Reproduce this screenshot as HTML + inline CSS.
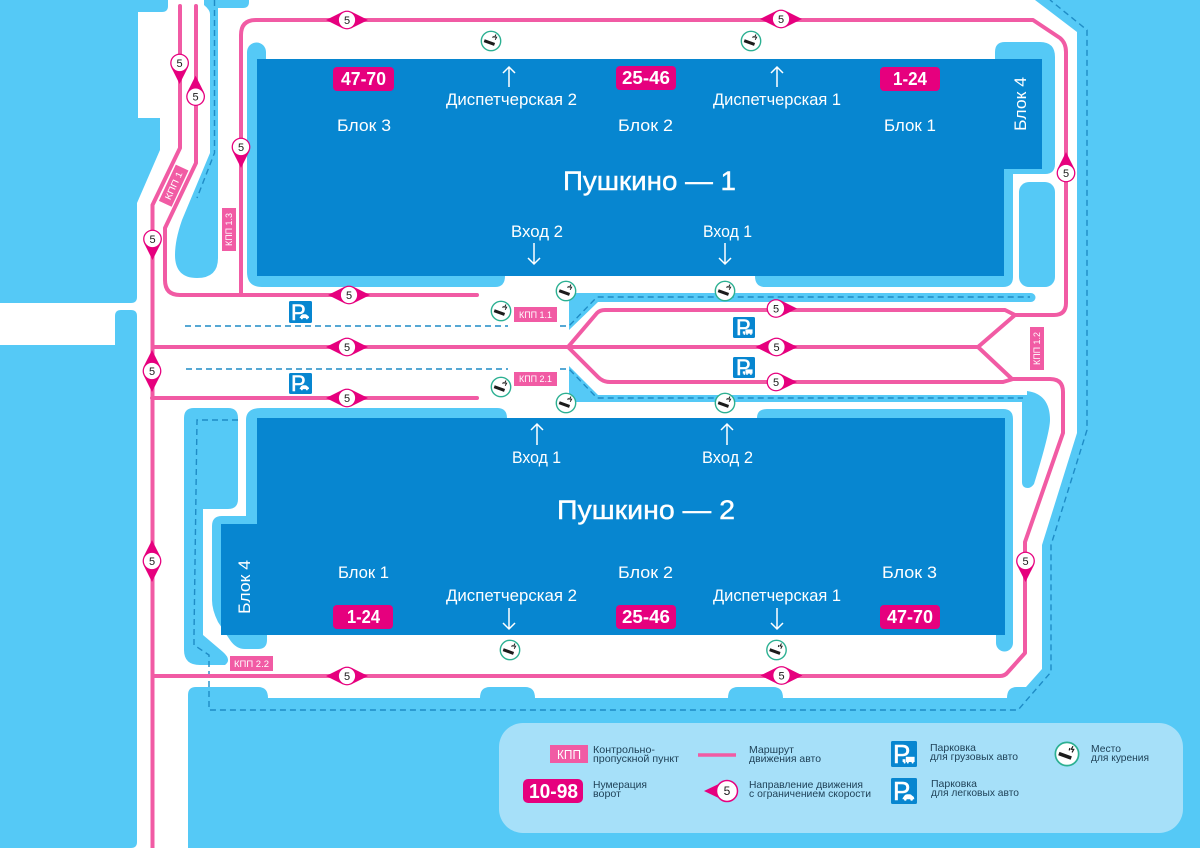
<!DOCTYPE html>
<html lang="ru"><head><meta charset="utf-8"><title>Пушкино</title>
<style>
html,body{margin:0;padding:0;background:#fff}
svg{display:block}
text{font-family:"Liberation Sans",sans-serif}
.w{fill:#fff}
.t{fill:#fff;font-size:16.5px}
.b{fill:#fff;font-size:18px;font-weight:bold}
.k{fill:#fff;font-size:9px}
.l{fill:#1d3f55;font-size:10.5px}
.n{fill:#1a1a1a;font-size:11px;text-anchor:middle}
.r{fill:none;stroke:#f15ba4;stroke-width:4;stroke-linejoin:round}
.d{fill:none;stroke:#1f8cc6;stroke-width:1.4;stroke-dasharray:6 4}
.a{fill:none;stroke:#fff;stroke-width:1.5}
.P{fill:#fff;font-size:22px;stroke:#fff;stroke-width:.5}
</style></head><body>
<svg width="1200" height="848" viewBox="0 0 1200 848" xmlns="http://www.w3.org/2000/svg">
<defs>
<g id="cig"><rect x="-6.5" y="-1.5" width="11" height="3" fill="#1c1c1c" transform="rotate(20) translate(0,2)"/><path d="M5,-6.5 L3.6,-4 L5.6,-3.8 L4.2,-1.3 M2.4,-5 L1.8,-3" fill="none" stroke="#1c1c1c" stroke-width="1"/></g>
<g id="smk"><circle r="9.7" fill="#fff" stroke="#2cb092" stroke-width="1.4"/><use href="#cig"/></g>
<g id="car"><path d="M-6,2 L-4,-1 Q-3,-2.5 -1,-2.5 H2 Q3.5,-2.5 4.5,-1 L6,0 Q7,1 7,3 H-6Z" fill="#fff"/><circle cx="-3" cy="3.3" r="1.4" fill="#fff"/><circle cx="4" cy="3.3" r="1.4" fill="#fff"/></g>
<g id="trk"><rect x="-4" y="-4" width="11" height="6.5" fill="#fff"/><rect x="-8" y="-1" width="3.4" height="3.5" fill="#fff"/><circle cx="-5.5" cy="3.2" r="1.3" fill="#fff"/><circle cx="-1.5" cy="3.2" r="1.3" fill="#fff"/><circle cx="4.5" cy="3.2" r="1.3" fill="#fff"/></g>
<polygon id="tip" points="4.2,-8.4 21,0 4.2,8.4" fill="#e6007e"/>
<g id="cir"><circle r="9.4" fill="#e6007e"/><circle r="8.1" fill="#fff"/></g>
</defs>

<rect width="1200" height="848" fill="#fff"/>
<g fill="#55c9f6">
<path d="M1035,0 L1077,32 V433 L1042,545 V669 L1026,687 H1017 Q1007,687 1007,698 H783 Q783,687 773,687 H738 Q728,687 728,698 H535 Q535,687 525,687 H490 Q480,687 480,698 H268 Q268,687 258,687 H196 Q188,687 188,695 V848 H1200 V0Z"/>
<path d="M0,0 H168 V6 Q168,12 162,12 H138 V118 H160 V150 L137,203 V297 Q137,303 131,303 H0Z"/>
<path d="M0,345 H115 V316 Q115,310 121,310 H131 Q137,310 137,316 V842 Q137,848 131,848 H0Z"/>
<path d="M204,0 H249 V2 Q249,8 243,8 H218 V258 Q218,278 197,278 Q175,278 175,255 Q175,240 182,220 L210,153 V14 Q210,10 204,5Z"/>
<path d="M247,52 a9.5,9.5 0 0 1 19,0 V59 H995 V52 Q995,42 1005,42 H1040 Q1055,42 1055,57 V164 Q1055,174 1045,174 H1013 V277 Q1013,287 1003,287 H765 Q755,287 755,276 H505 Q505,287 495,287 H262 Q247,287 247,272Z"/>
<rect x="1019" y="182" width="36" height="105" rx="10"/>
<path d="M569,293 H1031 a4.5,4.5 0 0 1 0,9 H598 L569,330Z"/>
<path d="M569,366 L598,395 H1027 V391 Q1050,394 1050,420 Q1050,432 1034,484 Q1031,488 1028,488 Q1022,488 1022,482 V402 H569Z"/>
<path d="M261,408 H497 Q507,408 507,418 H757 Q757,409 767,409 H1003 Q1013,409 1013,419 V643 a8.5,8.5 0 0 1 -17,0 V635 H267 V640 Q267,649 258,649 H245 Q236,649 230,640 L218,622 Q212,610 212,600 V526 Q212,516 222,516 H246 V420 Q246,408 261,408Z"/>
<path d="M194,408 H228 Q238,408 238,418 V499 Q238,509 228,509 H203 V635 L223,652 Q232,660 225,665 H200 Q184,665 184,650 V418 Q184,408 194,408Z"/>
</g>
<rect x="499" y="723" width="684" height="110" rx="24" fill="#a6e0f9"/>

<!-- buildings -->
<path d="M257,59 H1042 V169 H1004 V276 H257Z" fill="#0786d0"/>
<path d="M257,418 H1005 V635 H221 V524 H257Z" fill="#0786d0"/>

<!-- dashes -->
<path class="d" d="M214.5,0 V153 L197,198"/>
<path class="d" d="M185,326 H508 M560,326 H569 L597,297 H1030"/>
<path class="d" d="M186,369 H508 M560,369 H569 L597,398 H1023"/>
<path class="d" d="M238,420 H197 L194,635 V645 L209,655 V710 H1018 L1051,672 V545 L1087,430 V30 L1050,0"/>

<!-- roads -->
<path class="r" d="M152.5,848 V205 L180,148 V6" stroke-linecap="round"/>
<path class="r" d="M196,6 V163 L165,228 V280 Q165,295 180,295 H477" stroke-linecap="round"/>
<path class="r" d="M241,295 V35 Q241,20 256,20 H1033 L1060,38 Q1066,43 1066,52 V303 Q1066,315 1054,315 H1015 L1005,310 H605 Q600,310 597,313 L568,347 H152"/>
<path class="r" d="M568,347 H978 L1015,315 M978,347 L1012,379"/>
<path class="r" d="M568,347 L598,377 Q603,382 610,382 H1003 L1013,379 H1050 Q1063,379 1063,392 V433 L1025,542 V653 L1008,672 Q1005,676 1000,676 H152"/>
<path class="r" d="M152,398 H477" stroke-linecap="round"/>

<!-- arrows -->
<path class="a" d="M509,87 V67 M503,73 L509,67 L515,73"/>
<path class="a" d="M777,87 V67 M771,73 L777,67 L783,73"/>
<path class="a" d="M534,243 V264 M528,258 L534,264 L540,258"/>
<path class="a" d="M725,243 V264 M719,258 L725,264 L731,258"/>
<path class="a" d="M537,445 V424 M531,430 L537,424 L543,430"/>
<path class="a" d="M727,445 V424 M721,430 L727,424 L733,430"/>
<path class="a" d="M509,608 V629 M503,623 L509,629 L515,623"/>
<path class="a" d="M777,608 V629 M771,623 L777,629 L783,623"/>

<!-- building labels -->
<text class="t" x="446" y="105" textLength="131" lengthAdjust="spacingAndGlyphs">Диспетчерская 2</text>
<text class="t" x="713" y="105" textLength="128" lengthAdjust="spacingAndGlyphs">Диспетчерская 1</text>
<text class="t" x="337" y="131" textLength="54" lengthAdjust="spacingAndGlyphs">Блок 3</text>
<text class="t" x="618" y="131" textLength="55" lengthAdjust="spacingAndGlyphs">Блок 2</text>
<text class="t" x="884" y="131" textLength="52" lengthAdjust="spacingAndGlyphs">Блок 1</text>
<text class="t" x="511" y="237" textLength="52" lengthAdjust="spacingAndGlyphs">Вход 2</text>
<text class="t" x="703" y="237" textLength="49" lengthAdjust="spacingAndGlyphs">Вход 1</text>
<text x="563" y="190" fill="#fff" stroke="#fff" stroke-width=".4" font-size="27" textLength="173" lengthAdjust="spacingAndGlyphs">Пушкино — 1</text>
<text class="t" x="512" y="463" textLength="49" lengthAdjust="spacingAndGlyphs">Вход 1</text>
<text class="t" x="702" y="463" textLength="51" lengthAdjust="spacingAndGlyphs">Вход 2</text>
<text x="557" y="519" fill="#fff" stroke="#fff" stroke-width=".4" font-size="27" textLength="178" lengthAdjust="spacingAndGlyphs">Пушкино — 2</text>
<text class="t" x="338" y="578" textLength="51" lengthAdjust="spacingAndGlyphs">Блок 1</text>
<text class="t" x="618" y="578" textLength="55" lengthAdjust="spacingAndGlyphs">Блок 2</text>
<text class="t" x="882" y="578" textLength="55" lengthAdjust="spacingAndGlyphs">Блок 3</text>
<text class="t" x="446" y="601" textLength="131" lengthAdjust="spacingAndGlyphs">Диспетчерская 2</text>
<text class="t" x="713" y="601" textLength="128" lengthAdjust="spacingAndGlyphs">Диспетчерская 1</text>
<text class="t" transform="translate(1026,131) rotate(-90)" textLength="54" lengthAdjust="spacingAndGlyphs">Блок 4</text>
<text class="t" transform="translate(250,614) rotate(-90)" textLength="54" lengthAdjust="spacingAndGlyphs">Блок 4</text>

<!-- gate badges -->
<g fill="#e6007e">
<rect x="333" y="67" width="61" height="24" rx="4"/><rect x="616" y="66" width="60" height="24" rx="4"/><rect x="880" y="67" width="60" height="24" rx="4"/>
<rect x="333" y="605" width="60" height="24" rx="4"/><rect x="616" y="605" width="60" height="24" rx="4"/><rect x="880" y="605" width="60" height="24" rx="4"/>
<rect x="523" y="779" width="60" height="24" rx="5"/>
</g>
<text class="b" x="341" y="85" textLength="45" lengthAdjust="spacingAndGlyphs">47-70</text>
<text class="b" x="622" y="84" textLength="48" lengthAdjust="spacingAndGlyphs">25-46</text>
<text class="b" x="893" y="85" textLength="34" lengthAdjust="spacingAndGlyphs">1-24</text>
<text class="b" x="347" y="623" textLength="33" lengthAdjust="spacingAndGlyphs">1-24</text>
<text class="b" x="622" y="623" textLength="48" lengthAdjust="spacingAndGlyphs">25-46</text>
<text class="b" x="887" y="623" textLength="46" lengthAdjust="spacingAndGlyphs">47-70</text>
<text class="b" x="529" y="798" textLength="49" lengthAdjust="spacingAndGlyphs" style="font-size:20px">10-98</text>

<!-- KPP -->
<g fill="#f15ba4">
<rect x="222" y="208" width="14" height="43"/>
<rect x="-20" y="-7" width="40" height="14" transform="translate(173.7,185.7) rotate(-65)"/>
<rect x="514" y="307" width="43" height="15"/>
<rect x="514" y="372" width="43" height="14"/>
<rect x="1030" y="327" width="14" height="43"/>
<rect x="230" y="656" width="43" height="15"/>
<rect x="550" y="745" width="38" height="18"/>
</g>
<text class="k" transform="translate(232,246) rotate(-90)" textLength="33" lengthAdjust="spacingAndGlyphs">КПП 1.3</text>
<text class="k" transform="translate(173.7,185.7) rotate(-65) translate(-15,3)" textLength="30" lengthAdjust="spacingAndGlyphs">КПП 1</text>
<text class="k" x="519" y="318" textLength="33" lengthAdjust="spacingAndGlyphs">КПП 1.1</text>
<text class="k" x="519" y="382" textLength="33" lengthAdjust="spacingAndGlyphs">КПП 2.1</text>
<text class="k" transform="translate(1040,365) rotate(-90)" textLength="33" lengthAdjust="spacingAndGlyphs">КПП 1.2</text>
<text class="k" x="234" y="667" textLength="35" lengthAdjust="spacingAndGlyphs">КПП 2.2</text>
<text x="557" y="759" fill="#fff" style="font-size:12.5px" textLength="24" lengthAdjust="spacingAndGlyphs">КПП</text>

<!-- speed markers -->
<g transform="translate(347,20)"><use href="#tip" transform="rotate(180)"/><use href="#tip"/><use href="#cir"/><text class="n" y="4">5</text></g>
<g transform="translate(781,19)"><use href="#tip" transform="rotate(180)"/><use href="#tip"/><use href="#cir"/><text class="n" y="4">5</text></g>
<g transform="translate(349,295)"><use href="#tip" transform="rotate(180)"/><use href="#tip"/><use href="#cir"/><text class="n" y="4">5</text></g>
<g transform="translate(347,347)"><use href="#tip" transform="rotate(180)"/><use href="#tip"/><use href="#cir"/><text class="n" y="4">5</text></g>
<g transform="translate(347,398)"><use href="#tip" transform="rotate(180)"/><use href="#tip"/><use href="#cir"/><text class="n" y="4">5</text></g>
<g transform="translate(776.5,347)"><use href="#tip" transform="rotate(180)"/><use href="#tip"/><use href="#cir"/><text class="n" y="4">5</text></g>
<g transform="translate(776,308.5)"><use href="#tip"/><use href="#cir"/><text class="n" y="4">5</text></g>
<g transform="translate(776,382)"><use href="#tip"/><use href="#cir"/><text class="n" y="4">5</text></g>
<g transform="translate(347,676)"><use href="#tip" transform="rotate(180)"/><use href="#tip"/><use href="#cir"/><text class="n" y="4">5</text></g>
<g transform="translate(781.5,675.5)"><use href="#tip" transform="rotate(180)"/><use href="#tip"/><use href="#cir"/><text class="n" y="4">5</text></g>
<g transform="translate(179.6,63)"><use href="#tip" transform="rotate(90)"/><use href="#cir"/><text class="n" y="4">5</text></g>
<g transform="translate(195.6,96.6)"><use href="#tip" transform="rotate(-90)"/><use href="#cir"/><text class="n" y="4">5</text></g>
<g transform="translate(241,147)"><use href="#tip" transform="rotate(90)"/><use href="#cir"/><text class="n" y="4">5</text></g>
<g transform="translate(152.5,239)"><use href="#tip" transform="rotate(90)"/><use href="#cir"/><text class="n" y="4">5</text></g>
<g transform="translate(152,371)"><use href="#tip" transform="rotate(90)"/><use href="#tip" transform="rotate(-90)"/><use href="#cir"/><text class="n" y="4">5</text></g>
<g transform="translate(152,561)"><use href="#tip" transform="rotate(90)"/><use href="#tip" transform="rotate(-90)"/><use href="#cir"/><text class="n" y="4">5</text></g>
<g transform="translate(1066,173)"><use href="#tip" transform="rotate(-90)"/><use href="#cir"/><text class="n" y="4">5</text></g>
<g transform="translate(1025.5,561)"><use href="#tip" transform="rotate(90)"/><use href="#cir"/><text class="n" y="4">5</text></g>

<!-- smoking -->
<use href="#smk" x="491" y="41"/><use href="#smk" x="751" y="41"/>
<use href="#smk" x="566" y="291"/><use href="#smk" x="725" y="291"/>
<use href="#smk" x="501" y="311"/><use href="#smk" x="501" y="387"/>
<use href="#smk" x="566" y="403"/><use href="#smk" x="725" y="403"/>
<use href="#smk" x="510" y="650"/><use href="#smk" x="776.5" y="650"/>
<g transform="translate(1067,754) scale(1.2)"><use href="#smk"/></g>

<!-- parking -->
<g>
<rect x="289" y="301" width="23" height="22" rx="1.5" fill="#0786d0"/><text class="P" x="291" y="320">P</text><use href="#car" transform="translate(304,316) scale(.72)"/>
<rect x="289" y="373" width="23" height="21" rx="1.5" fill="#0786d0"/><text class="P" x="291" y="391">P</text><use href="#car" transform="translate(304,387) scale(.72)"/>
<rect x="733" y="317" width="22" height="21" rx="1.5" fill="#0786d0"/><text class="P" x="736" y="335">P</text><use href="#trk" transform="translate(748,332) scale(.65)"/>
<rect x="733" y="357" width="22" height="21" rx="1.5" fill="#0786d0"/><text class="P" x="736" y="375">P</text><use href="#trk" transform="translate(748,372) scale(.65)"/>
<rect x="891" y="741" width="26" height="26" rx="1.5" fill="#0786d0"/><text class="P" x="893" y="763" style="font-size:26px">P</text><use href="#trk" transform="translate(909,760) scale(.8)"/>
<rect x="891" y="778" width="26" height="26" rx="1.5" fill="#0786d0"/><text class="P" x="893" y="800" style="font-size:26px">P</text><use href="#car" transform="translate(908,796.5) scale(.9)"/>
</g>

<!-- legend -->
<text class="l" x="593" y="753" textLength="62" lengthAdjust="spacingAndGlyphs">Контрольно-</text>
<text class="l" x="593" y="762" textLength="86" lengthAdjust="spacingAndGlyphs">пропускной пункт</text>
<text class="l" x="593" y="788" textLength="54" lengthAdjust="spacingAndGlyphs">Нумерация</text>
<text class="l" x="593" y="797" textLength="28" lengthAdjust="spacingAndGlyphs">ворот</text>
<line x1="698" y1="755" x2="736" y2="755" stroke="#f15ba4" stroke-width="3.5"/>
<text class="l" x="749" y="753" textLength="45" lengthAdjust="spacingAndGlyphs">Маршрут</text>
<text class="l" x="749" y="762" textLength="72" lengthAdjust="spacingAndGlyphs">движения авто</text>
<polygon points="727,780 704,791 727,802" fill="#e6007e"/>
<circle cx="727" cy="791" r="10.5" fill="#fff" stroke="#e6007e" stroke-width="1.5"/>
<text class="n" x="727" y="795" style="font-size:12px">5</text>
<text class="l" x="749" y="788" textLength="114" lengthAdjust="spacingAndGlyphs">Направление движения</text>
<text class="l" x="749" y="797" textLength="122" lengthAdjust="spacingAndGlyphs">с ограничением скорости</text>
<text class="l" x="930" y="751" textLength="46" lengthAdjust="spacingAndGlyphs">Парковка</text>
<text class="l" x="930" y="760" textLength="88" lengthAdjust="spacingAndGlyphs">для грузовых авто</text>
<text class="l" x="931" y="787" textLength="46" lengthAdjust="spacingAndGlyphs">Парковка</text>
<text class="l" x="931" y="796" textLength="88" lengthAdjust="spacingAndGlyphs">для легковых авто</text>
<text class="l" x="1091" y="752" textLength="30" lengthAdjust="spacingAndGlyphs">Место</text>
<text class="l" x="1091" y="761" textLength="58" lengthAdjust="spacingAndGlyphs">для курения</text>
</svg>
</body></html>
